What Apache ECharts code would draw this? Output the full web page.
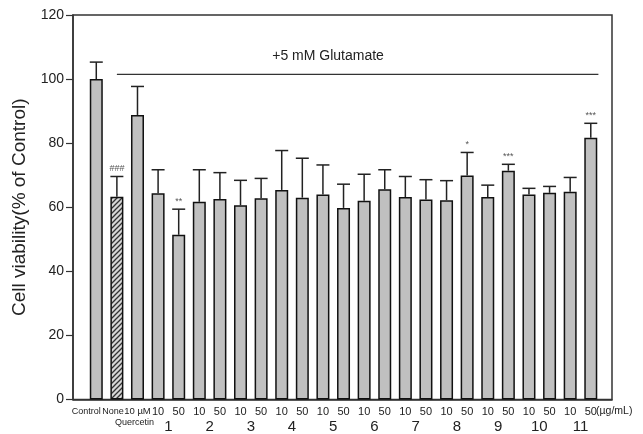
<!DOCTYPE html>
<html>
<head>
<meta charset="utf-8">
<script src="https://cdn.jsdelivr.net/npm/echarts@6/dist/echarts.min.js"></script>
<style>
  html, body { margin: 0; padding: 0; background: #fff; }
  #chart { width: 643px; height: 434px; }
</style>
</head>
<body>
<div id="chart"></div>
<script>
// tick labels under each bar
const categories = ['Control', 'None', '10 \u00b5M', '10', '50', '10', '50', '10', '50', '10', '50',
  '10', '50', '10', '50', '10', '50', '10', '50', '10', '50', '10', '50', '10', '50']
// second row of labels and the bar position they sit under
const groupLabels = ['Quercetin', '1', '2', '3', '4', '5', '6', '7', '8', '9', '10', '11']
const groupPos = [2, 3.5, 5.5, 7.5, 9.5, 11.5, 13.5, 15.5, 17.5, 19.5, 21.5, 23.5]
// mean and upper error (% of control)
const means = [100, 63.3, 88.8, 64.4, 51.4, 61.7, 62.6, 60.6, 62.8, 65.4, 63.0, 64.0, 59.8,
  62.0, 65.6, 63.2, 62.4, 62.2, 69.9, 63.2, 71.4, 64.0, 64.5, 64.8, 81.7]
const errors = [5.3, 6.3, 8.9, 7.3, 8.0, 10.0, 8.2, 7.8, 6.2, 12.3, 12.3, 9.2, 7.4,
  8.3, 6.1, 6.4, 6.2, 6.1, 7.2, 3.7, 2.0, 1.9, 2.0, 4.5, 4.5]
const marks = ['', '###', '', '', '**', '', '', '', '', '', '', '', '',
  '', '', '', '', '', '*', '', '***', '', '', '', '***']
// glutamate bracket
const bracketX = [1, 24.37]
const bracketY = 101.5
const bracketText = '+5 mM Glutamate'
const bracketTextPos = [11.25, 107.3]
const yTicks = [0, 20, 40, 60, 80, 100, 120]

// hatch pattern for the glutamate-only bar
function hatch() {
  const c = document.createElement('canvas')
  c.width = 5
  c.height = 5
  const ctx = c.getContext('2d')
  ctx.fillStyle = '#d8d8d8'
  ctx.fillRect(0, 0, 5, 5)
  ctx.strokeStyle = '#333'
  ctx.lineWidth = 1.3
  ctx.beginPath()
  ctx.moveTo(-1, 6); ctx.lineTo(6, -1)
  ctx.moveTo(-1, 1); ctx.lineTo(1, -1)
  ctx.moveTo(4, 6); ctx.lineTo(6, 4)
  ctx.stroke()
  return c
}

const chart = echarts.init(document.getElementById('chart'))

const barData = means.map((v, i) => {
  if (i === 1) {
    return { value: [i, v], itemStyle: { color: { image: hatch(), repeat: 'repeat' } } }
  }
  return [i, v]
})

const option = {
  animation: false,
  grid: {
    left: 73, right: 31, top: 15, bottom: 34.5,
    show: true, borderColor: '#333', borderWidth: 1.5, backgroundColor: 'transparent'
  },
  xAxis: {
    type: 'value',
    min: -1.13,
    max: 25.03,
    axisLine: { show: true, onZero: false, lineStyle: { color: '#333', width: 1.5 } },
    axisTick: { show: false },
    axisLabel: { show: false },
    splitLine: { show: false }
  },
  yAxis: {
    type: 'value',
    min: 0,
    max: 120,
    interval: 20,
    name: 'Cell viability(% of Control)',
    nameLocation: 'middle',
    nameGap: 43,
    nameTextStyle: { fontFamily: 'Liberation Sans', fontSize: 19, color: '#222' },
    axisLine: { show: true, onZero: false, lineStyle: { color: '#333', width: 1.5 } },
    axisTick: { show: true, inside: false, length: 7, lineStyle: { color: '#333', width: 1.2 } },
    axisLabel: {
      fontFamily: 'Liberation Sans', fontSize: 14, color: '#222', margin: 9,
      formatter: v => yTicks.includes(v) ? String(v) : ''
    },
    splitLine: { show: false }
  },
  series: [
    {
      type: 'bar',
      barWidth: 13,
      data: barData,
      itemStyle: { color: '#c0c0c0', borderColor: '#111', borderWidth: 1.5 }
    },
    {
      // error bars (upper only) with significance marks
      type: 'custom',
      data: means.map((v, i) => [i, v, v + errors[i]]),
      renderItem: (params, api) => {
        const i = api.value(0)
        const top = api.coord([i, api.value(1)])
        const hi = api.coord([i, api.value(2)])
        const children = [
          { type: 'line', shape: { x1: top[0], y1: top[1], x2: hi[0], y2: hi[1] },
            style: { stroke: '#222', lineWidth: 1.5 } },
          { type: 'line', shape: { x1: hi[0] - 6.5, y1: hi[1], x2: hi[0] + 6.5, y2: hi[1] },
            style: { stroke: '#222', lineWidth: 1.5 } }
        ]
        const m = marks[params.dataIndex]
        if (m) {
          children.push({
            type: 'text',
            style: {
              x: hi[0], y: hi[1] - 3, text: m, align: 'center', verticalAlign: 'bottom',
              fontFamily: 'Liberation Sans', fontSize: 9, fill: '#555'
            }
          })
        }
        return { type: 'group', children }
      },
      z: 3
    },
    {
      // first row of x labels
      type: 'custom',
      data: categories.map((c, i) => [i, 0]),
      clip: false,
      renderItem: (params, api) => {
        const i = params.dataIndex
        const p = api.coord([api.value(0), 0])
        let size = 11
        let dx = 0
        if (i === 0) { size = 9; dx = -10 }
        if (i === 1) { size = 9; dx = -4 }
        if (i === 2) { size = 9.5; dx = 0 }
        return {
          type: 'text',
          style: {
            x: p[0] + dx, y: p[1] + 12, text: categories[i], align: 'center', verticalAlign: 'middle',
            fontFamily: 'Liberation Sans', fontSize: size, fill: '#222'
          }
        }
      }
    },
    {
      // second row: compound numbers
      type: 'custom',
      data: groupPos.map(p => [p, 0]),
      clip: false,
      renderItem: (params, api) => {
        const i = params.dataIndex
        const p = api.coord([api.value(0), 0])
        const q = i === 0
        return {
          type: 'text',
          style: {
            x: p[0] - (q ? 3 : 0), y: p[1] + (q ? 23 : 27), text: groupLabels[i],
            align: 'center', verticalAlign: 'middle',
            fontFamily: 'Liberation Sans', fontSize: q ? 9 : 15, fill: '#222'
          }
        }
      }
    },
    {
      // bracket line
      type: 'line',
      data: bracketX.map(x => [x, bracketY]),
      symbol: 'none',
      lineStyle: { color: '#333', width: 1.2 }
    },
    {
      // bracket label
      type: 'custom',
      data: [bracketTextPos],
      renderItem: (params, api) => {
        const p = api.coord([api.value(0), api.value(1)])
        return {
          type: 'text',
          style: {
            x: p[0], y: p[1], text: bracketText, align: 'center', verticalAlign: 'middle',
            fontFamily: 'Liberation Sans', fontSize: 14, fill: '#222'
          }
        }
      }
    }
  ],
  graphic: [{
    type: 'text',
    left: 596,
    top: 406,
    style: { text: '(\u00b5g/mL)', fontFamily: 'Liberation Sans', fontSize: 10.5, fill: '#222' }
  }]
}

chart.setOption(option)
</script>
</body>
</html>
